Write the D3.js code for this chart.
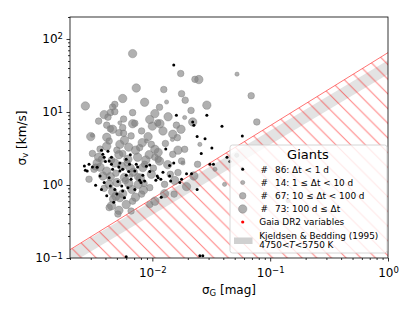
<!DOCTYPE html>
<html>
<head>
<meta charset="utf-8">
<script src="https://cdn.jsdelivr.net/npm/d3@7"></script>
<style>
    body { margin: 0; background: #fff; }
    text { font-family: "DejaVu Sans", sans-serif; fill: #000; }
</style>
</head>
<body>
<script>
// точки [sigma_G (mag), sigma_v (km/s)] по группам длительности наблюдений
const dtShort = [[0.0152,44],[0.016,9.0],[0.029,9.0],[0.039,6.4],[0.058,4.7],[0.024,4.6],[0.028,4.3],[0.032,3.2],
    [0.022,7.3],[0.0225,6.6],[0.013,3.1],[0.026,2.7],[0.043,2.4],[0.014,1.85],[0.0152,2.0],[0.0308,1.92],[0.033,1.92],
    [0.058,1.7],[0.0455,2.1],[0.011,1.33],[0.0118,1.2],[0.014,1.33],[0.0143,1.13],[0.0195,1.43],[0.0177,1.2],
    [0.0215,1.43],[0.0171,1.08],[0.024,0.87],[0.0119,0.68],[0.0037,3.0],[0.0038,2.63],[0.0039,2.4],[0.004,2.1],
    [0.0043,2.13],[0.0045,1.92],[0.0053,2.0],[0.0052,1.76],[0.00265,1.82],[0.0029,1.92],[0.0031,1.76],[0.0073,1.92],
    [0.0075,1.76],[0.0095,1.88],[0.0027,1.59],[0.0036,1.33],[0.0033,0.99],[0.0037,0.87],[0.0041,0.71],[0.0048,0.87],
    [0.005,0.75],[0.0056,0.83],[0.0058,0.67],[0.0071,0.87],[0.0078,1.16],[0.008,1.08],[0.0086,1.13],[0.0112,1.26],
    [0.0107,1.16],[0.0039,1.08],[0.0043,1.26],[0.0053,1.55],[0.0056,1.64],[0.0063,1.53],[0.0066,1.2],[0.0071,1.55],
    [0.0055,0.97],[0.0095,1.53],[0.0253,0.107],[0.0268,0.107],[0.006,0.104],[0.0046,1.64],[0.006,1.36],[0.0051,1.12],
    [0.0064,1.92],[0.0083,1.36],[0.0045,2.4],[0.0034,1.75],[0.006,2.25],[0.0028,1.55],[0.0044,0.97],[0.0062,0.92],
    [0.0047,0.58],[0.0065,2.6],[0.0042,2.9],[0.0089,1.8],[0.0123,1.5]]
const dtSmall = [[0.0523,33],[0.0132,13.7],[0.0053,7.1],[0.0182,2.0],[0.0253,3.6],[0.034,1.64],[0.041,1.02],
    [0.0188,8.4],[0.052,2.55],[0.142,0.61],[0.0031,4.8],[0.0148,4.2],[0.0089,4.0],[0.0066,1.35]]
const dtMid = [[0.0125,20.3],[0.0174,33.6],[0.023,28],[0.0177,17.8],[0.069,16.7],[0.019,14.5],[0.077,7.3],
    [0.0068,9.8],[0.0071,7.0],[0.0035,7.5],[0.0046,11.7],[0.0048,12.7],[0.0044,9.8],[0.0048,10.1],[0.0042,8.5],
    [0.0041,6.6],[0.0044,5.9],[0.0056,6.1],[0.0111,7.1],[0.0052,5.2],[0.0057,5.1],[0.0066,4.7],[0.0078,3.25],
    [0.0098,3.6],[0.005,3.0],[0.0056,2.7],[0.0112,2.25],[0.016,6.6],[0.0163,4.45],[0.0149,2.63],[0.0242,1.92],
    [0.0165,1.48],[0.0153,0.75],[0.0032,1.64],[0.0046,0.64],[0.0095,0.92],[0.0066,0.44],[0.0033,1.76],[0.0043,0.49],
    [0.0177,2.13],[0.0036,3.1],[0.0086,1.92],[0.0081,0.75],[0.0037,2.25],[0.0051,0.4],[0.0029,1.2],[0.0095,0.54],
    [0.0127,1.02],[0.0188,3.08],[0.0115,11.6],[0.0049,1.45],[0.0059,1.15],[0.0075,1.3],[0.0045,2.2],[0.0061,2.0],
    [0.0085,1.05],[0.0039,0.9],[0.0068,0.6],[0.0102,1.7],[0.0057,8.0],[0.0081,5.5],[0.0129,3.7],[0.0031,2.7],
    [0.0213,10.5],[0.0142,1.4],[0.0043,4.0],[0.0105,2.4]]
const dtLong = [[0.0068,63],[0.0073,21.3],[0.0248,27.8],[0.029,12.4],[0.022,7.3],[0.0027,12.1],[0.003,4.6],
    [0.0056,15.3],[0.0068,6.9],[0.0095,7.9],[0.01,6.4],[0.0041,4.5],[0.0053,3.6],[0.0063,3.3],[0.0094,2.6],
    [0.0112,2.8],[0.0116,6.9],[0.0123,5.5],[0.0149,4.95],[0.0105,3.08],[0.0165,3.0],[0.0115,2.13],[0.0225,1.33],
    [0.0127,0.76],[0.0105,0.6],[0.0041,1.55],[0.0038,1.33],[0.0043,1.02],[0.005,1.08],[0.0046,0.81],[0.0053,0.67],
    [0.0045,0.52],[0.0076,1.02],[0.0083,1.73],[0.0056,0.76],[0.0062,2.25],[0.0075,2.4],[0.0058,1.27],[0.0067,0.87],
    [0.006,0.54],[0.0086,13.6],[0.0048,2.0],[0.0055,1.8],[0.0069,1.5],[0.0079,1.25],[0.0044,1.3],[0.0036,1.75],
    [0.0052,2.6],[0.0072,3.0],[0.0088,2.2],[0.0098,1.4],[0.0063,1.05],[0.0049,0.7],[0.0072,0.68],[0.0035,2.4],
    [0.0041,3.4],[0.0058,4.1],[0.0082,3.8],[0.0046,5.8],[0.0135,1.9],[0.0155,1.15],[0.0195,0.95],[0.0136,8.6],
    [0.0039,9.2],[0.0052,0.45],[0.0084,0.85],[0.0092,4.6],[0.0105,9.5],[0.0175,5.8],[0.0034,2.0],[0.0065,1.7]]

// граница заштрихованной области и полоса Kjeldsen & Bedding
const limitLine = [[0.002,0.13],[1,65]]
const bandUpper = [[0.002,0.128],[1,51]]
const bandLower = [[0.002,0.083],[1,33]]

// подписи
const legendCounts = [86, 14, 67, 73]
const legendRanges = ['Δt < 1 d', '1 ≤ Δt < 10 d', '10 ≤ Δt < 100 d', '100 d ≤ Δt']
const xTicks = [0.01, 0.1, 1]
const yTicks = [0.1, 1, 10, 100]

const width = 415, height = 311
const svg = d3.select('body').append('svg').attr('width', width).attr('height', height)

const x = d3.scaleLog().domain([0.002, 1]).range([70, 388])
const y = d3.scaleLog().domain([0.1, 200]).range([258, 17])
const [x0, x1] = x.range(), [y0, y1] = y.range()

const defs = svg.append('defs')
defs.append('clipPath').attr('id', 'clip').append('rect')
    .attr('x', x0).attr('y', y1).attr('width', x1 - x0).attr('height', y0 - y1)

// штриховка '\\'
const hs = 14.7
const pat = defs.append('pattern').attr('id', 'hatch').attr('patternUnits', 'userSpaceOnUse')
    .attr('width', hs).attr('height', hs)
pat.append('path')
    .attr('d', `M0,0 L${hs},${hs} M-2,${hs - 2} L2,${hs + 2} M${hs - 2},-2 L${hs + 2},2`)
    .attr('stroke', 'rgba(255,0,0,0.5)').attr('stroke-width', 1)

const plot = svg.append('g').attr('clip-path', 'url(#clip)')

// полоса K&B
const band = bandUpper.concat(bandLower.slice().reverse())
plot.append('path')
    .attr('d', 'M' + band.map(d => [x(d[0]), y(d[1])].join(',')).join('L') + 'Z')
    .attr('fill', '#e3e3e3')

// заштрихованная область под границей
const area = limitLine.concat([[1, 0.1], [0.002, 0.1]])
plot.append('path')
    .attr('d', 'M' + area.map(d => [x(d[0]), y(d[1])].join(',')).join('L') + 'Z')
    .attr('fill', 'url(#hatch)')
plot.append('path')
    .attr('d', d3.line().x(d => x(d[0])).y(d => y(d[1]))(limitLine))
    .attr('stroke', 'rgba(255,0,0,0.55)').attr('stroke-width', 1).attr('fill', 'none')

// точки
const grayStyle = sel => sel.attr('fill', '#7f7f7f').attr('fill-opacity', 0.62)
    .attr('stroke', '#7f7f7f').attr('stroke-opacity', 0.62).attr('stroke-width', 0.7)
const groups = [
    {data: dtLong, r: 4.2, gray: true},
    {data: dtMid, r: 3.3, gray: true},
    {data: dtSmall, r: 2.1, gray: true},
    {data: dtShort, r: 1.5, gray: false}
]
groups.forEach(g => {
    const c = plot.append('g').selectAll('circle').data(g.data).enter().append('circle')
        .attr('cx', d => x(d[0])).attr('cy', d => y(d[1])).attr('r', g.r)
    if (g.gray) c.call(grayStyle)
    else c.attr('fill', '#000')
})

// оси: подпись вида 10^n
function powLabel(sel, v) {
    const e = Math.round(Math.log10(v))
    sel.text('10').append('tspan').attr('dy', '-0.45em').attr('font-size', '8.5px')
        .text(String(e).replace('-', '−'))
}
const xMinor = x.ticks().filter(v => !xTicks.some(t => Math.abs(t - v) < 1e-9))
const yMinor = y.ticks().filter(v => !yTicks.some(t => Math.abs(t - v) < 1e-9))

const xAxis = svg.append('g').attr('transform', `translate(0,${y0})`)
xAxis.append('g').call(d3.axisBottom(x).tickValues(xMinor).tickSize(2).tickFormat(''))
const xMajor = xAxis.append('g').attr('class', 'major')
    .call(d3.axisBottom(x).tickValues(xTicks).tickSize(3.5).tickPadding(3))
const yAxis = svg.append('g').attr('transform', `translate(${x0},0)`)
yAxis.append('g').call(d3.axisLeft(y).tickValues(yMinor).tickSize(2).tickFormat(''))
const yMajor = yAxis.append('g').attr('class', 'major')
    .call(d3.axisLeft(y).tickValues(yTicks).tickSize(3.5).tickPadding(3.5))

svg.selectAll('.domain').remove()
svg.selectAll('.tick line').attr('stroke', '#000').attr('stroke-width', 0.8)
svg.selectAll('.major .tick text').each(function (v) {
    d3.select(this).attr('font-size', '12px').attr('font-family', '"DejaVu Sans", sans-serif')
        .call(powLabel, v)
})
xMajor.selectAll('.tick text').attr('dy', '1.05em')

// рамка
svg.append('rect').attr('x', x0).attr('y', y1).attr('width', x1 - x0).attr('height', y0 - y1)
    .attr('fill', 'none').attr('stroke', '#000').attr('stroke-width', 0.8)

// подписи осей
const xl = svg.append('text').attr('x', 229).attr('y', 294).attr('text-anchor', 'middle').attr('font-size', '12px')
xl.append('tspan').text('σ')
xl.append('tspan').attr('font-size', '8.5px').attr('dy', '0.25em').text('G')
xl.append('tspan').attr('dy', '-0.2em').text(' [mag]')
const yl = svg.append('text').attr('transform', 'translate(26,138) rotate(-90)')
    .attr('text-anchor', 'middle').attr('font-size', '12px')
yl.append('tspan').text('σ')
yl.append('tspan').attr('font-size', '8.5px').attr('dy', '0.25em').text('v')
yl.append('tspan').attr('dy', '-0.2em').text(' [km/s]')

// легенда
const fs = '8.9px'
const lg = svg.append('g')
lg.append('rect').attr('x', 230).attr('y', 145).attr('width', 157).attr('height', 108).attr('rx', 2.5)
    .attr('fill', '#fff').attr('fill-opacity', 0.8).attr('stroke', '#cccccc').attr('stroke-width', 0.8)
lg.append('text').attr('x', 308).attr('y', 158.5).attr('text-anchor', 'middle').attr('font-size', '13px').text('Giants')

const mx = 242.7
const rowY = [169.3, 182.5, 195.8, 209]
const markers = [{r: 1.5, gray: false}, {r: 2.1, gray: true}, {r: 3.3, gray: true}, {r: 4.2, gray: true}]
markers.forEach((m, i) => {
    const c = lg.append('circle').attr('cx', mx).attr('cy', rowY[i]).attr('r', m.r)
    if (m.gray) c.call(grayStyle)
    else c.attr('fill', '#000')
    const t = lg.append('text').attr('y', rowY[i] + 3.2).attr('font-size', fs)
    t.append('tspan').attr('x', 260.5).text('#')
    t.append('tspan').attr('x', 275).text(`${legendCounts[i]}: ${legendRanges[i]}`)
})
lg.append('circle').attr('cx', mx).attr('cy', 222).attr('r', 1.6).attr('fill', 'red')
lg.append('text').attr('x', 259.3).attr('y', 225.3).attr('font-size', fs).text('Gaia DR2 variables')
lg.append('rect').attr('x', 234).attr('y', 237.5).attr('width', 18.5).attr('height', 6.5).attr('fill', '#d0d0d0')
lg.append('text').attr('x', 259.3).attr('y', 238.8).attr('font-size', fs).text('Kjeldsen & Bedding (1995)')
const kt = lg.append('text').attr('x', 259.3).attr('y', 248).attr('font-size', fs)
kt.append('tspan').text('4750<')
kt.append('tspan').attr('font-style', 'italic').text('T')
kt.append('tspan').text('<5750 K')
</script>
</body>
</html>
